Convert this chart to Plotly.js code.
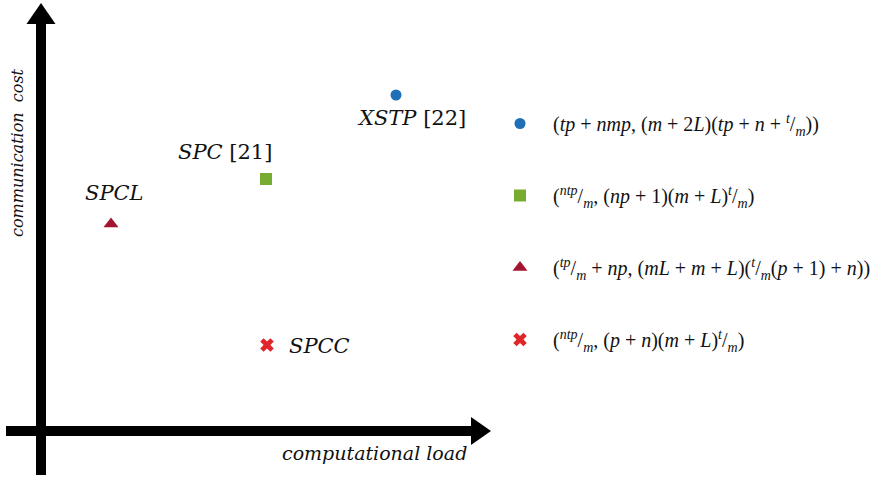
<!DOCTYPE html>
<html><head><meta charset="utf-8">
<script src="https://cdn.plot.ly/plotly-3.0.1.min.js"></script>
<style>html,body{margin:0;padding:0;background:#fff}#chart{width:873px;height:480px}</style>
</head><body><div id="chart"></div>
<script>
// ---- data ----
const methods = ["<i>XSTP</i> [22]", "<i>SPC</i> [21]", "<i>SPCL</i>", "<i>SPCC</i>"];
const load = [3.55, 2.25, 0.70, 2.26];   // computational load (arbitrary units)
const cost = [3.36, 2.52, 2.07, 0.86];   // communication cost (arbitrary units)
const formulas = [
  "(<i>tp</i> + <i>nmp</i>, (<i>m</i> + 2<i>L</i>)(<i>tp</i> + <i>n</i> + <sup><i>t</i></sup>/<sub><i>m</i></sub>))",
  "(<sup><i>ntp</i></sup>/<sub><i>m</i></sub>, (<i>np</i> + 1)(<i>m</i> + <i>L</i>)<sup><i>t</i></sup>/<sub><i>m</i></sub>)",
  "(<sup><i>tp</i></sup>/<sub><i>m</i></sub> + <i>np</i>, (<i>mL</i> + <i>m</i> + <i>L</i>)(<sup><i>t</i></sup>/<sub><i>m</i></sub>(<i>p</i> + 1) + <i>n</i>))",
  "(<sup><i>ntp</i></sup>/<sub><i>m</i></sub>, (<i>p</i> + <i>n</i>)(<i>m</i> + <i>L</i>)<sup><i>t</i></sup>/<sub><i>m</i></sub>)"
];
const xTitle = "<i>computational load</i>";
const yTitle = "<i>communication\u00a0 cost</i>";

// ---- styles ----
const symbols = ["circle", "square", "triangle-up", "x"];
const colors = ["#1f70b6", "#77ac30", "#a2142f", "#e0262a"];
const sizes = [11, 12, 13, 12];
const labelShift = [[15, -23, "center"], [-41, 27, "center"], [3, 31, "center"], [20, -1, "left"]];
const serif = "DejaVu Serif, Liberation Serif, serif";
const serif2 = "Liberation Serif, DejaVu Serif, serif";

const traces = methods.map((m, i) => ({
  type: "scatter", mode: "markers",
  x: [load[i]], y: [cost[i]],
  name: formulas[i],
  legendgroup: "g" + i,
  marker: {symbol: symbols[i], color: colors[i], size: sizes[i], line: {width: 0}},
  hoverinfo: "skip"
}));

const annotations = methods.map((m, i) => ({
  x: load[i], y: cost[i], xref: "x", yref: "y",
  text: m, showarrow: false,
  xanchor: labelShift[i][2], yanchor: "middle",
  xshift: labelShift[i][0], yshift: labelShift[i][1],
  font: {family: serif, size: 21, color: "#111"}
}));
annotations.push({
  xref: "paper", yref: "paper", x: 17/873, y: 1 - 153/480,
  text: yTitle, textangle: -90, showarrow: false,
  xanchor: "center", yanchor: "middle",
  font: {family: serif, size: 16, color: "#111"}
});
annotations.push({
  xref: "paper", yref: "paper", x: 374/873, y: 1 - 453/480,
  text: xTitle, showarrow: false,
  xanchor: "center", yanchor: "middle",
  font: {family: serif, size: 19, color: "#111"}
});

const shapes = [
  // horizontal axis
  {type: "line", xref: "x", yref: "y", x0: -0.35, y0: 0, x1: 4.32, y1: 0, line: {color: "#000", width: 10}},
  {type: "path", xref: "x", yref: "y", path: "M 4.30 0.14 L 4.50 0 L 4.30 -0.14 Z", fillcolor: "#000", line: {width: 0}},
  // vertical axis
  {type: "line", xref: "x", yref: "y", x0: 0, y0: -0.44, x1: 0, y1: 4.09, line: {color: "#000", width: 10}},
  {type: "path", xref: "x", yref: "y", path: "M -0.145 4.07 L 0 4.28 L 0.145 4.07 Z", fillcolor: "#000", line: {width: 0}}
];

const layout = {
  width: 873, height: 480,
  margin: {l: 0, r: 0, t: 0, b: 0, autoexpand: false},
  paper_bgcolor: "#fff", plot_bgcolor: "#fff",
  xaxis: {range: [-0.41, 8.32], visible: false, fixedrange: true},
  yaxis: {range: [-0.49, 4.31], visible: false, fixedrange: true},
  showlegend: true,
  legend: {
    x: 487/873, y: 1 - 104/480, xanchor: "left", yanchor: "top",
    bgcolor: "rgba(0,0,0,0)", borderwidth: 0,
    font: {family: serif2, size: 20, color: "#111"},
    traceorder: "grouped", tracegroupgap: 43,
    itemwidth: 56
  },
  shapes: shapes,
  annotations: annotations
};

Plotly.newPlot("chart", traces, layout, {displayModeBar: false, staticPlot: true});
</script>
</body></html>
